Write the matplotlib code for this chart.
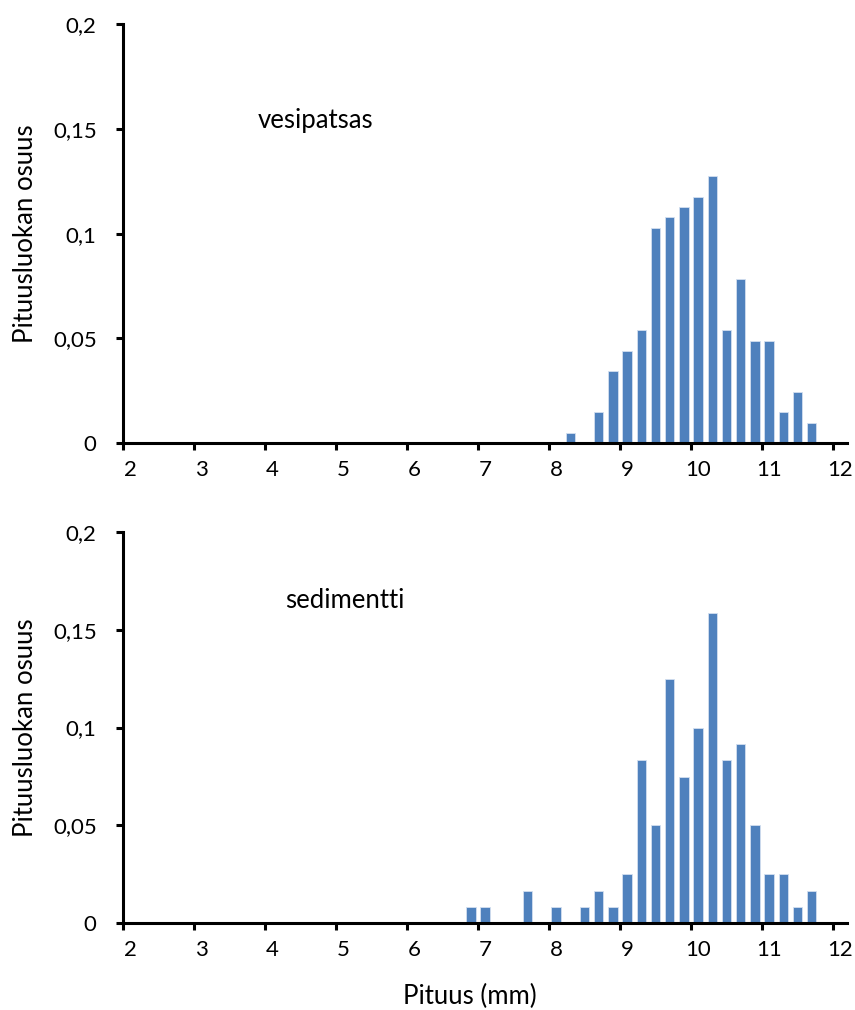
"""
Pituusjakaumat: vesipatsas ja sedimentti
"""

import matplotlib
matplotlib.use("Agg")
import matplotlib.pyplot as plt

DPI = 100
FIGSIZE = (8.55, 10.10)
BAR_COLOR = "#4F81BD"
FONT = "Lato"
TICK_FS = 16
LABEL_FS = 18.5

# length classes (lower edge of 0.2 mm class, mm) and share of each class
vesi_class = [8.2, 8.6, 8.8, 9.0, 9.2, 9.4, 9.6, 9.8, 10.0, 10.2,
              10.4, 10.6, 10.8, 11.0, 11.2, 11.4, 11.6]
vesi_share = [0.0049, 0.0147, 0.0343, 0.0441, 0.0539, 0.1029, 0.1078, 0.1127,
              0.1176, 0.1275, 0.0539, 0.0784, 0.0490, 0.0490, 0.0147, 0.0245,
              0.0098]

sed_class = [6.8, 7.0, 7.6, 8.0, 8.4, 8.6, 8.8, 9.0, 9.2, 9.4, 9.6, 9.8,
             10.0, 10.2, 10.4, 10.6, 10.8, 11.0, 11.2, 11.4, 11.6]
sed_share = [0.0083, 0.0083, 0.0167, 0.0083, 0.0083, 0.0167, 0.0083, 0.025,
             0.0833, 0.05, 0.125, 0.075, 0.10, 0.1583, 0.0833, 0.0917, 0.05,
             0.025, 0.025, 0.0083, 0.0167]

x_ticks = list(range(2, 13))
y_ticks = [0, 0.05, 0.1, 0.15, 0.2]
y_labels = ["0", "0,05", "0,1", "0,15", "0,2"]

plt.rcParams["font.family"] = [FONT, "DejaVu Sans"]


def draw_panel(ax, classes, shares, label, label_xy):
    centers = [c + 0.1 for c in classes]
    ax.bar(centers, shares, width=0.133, color=BAR_COLOR,
           edgecolor="#d3dff0", linewidth=0.6, zorder=2)
    ax.set_xlim(2, 12.2)
    ax.set_ylim(0, 0.2)
    for side in ("top", "right"):
        ax.spines[side].set_visible(False)
    for side in ("left", "bottom"):
        ax.spines[side].set_linewidth(2.2)
        ax.spines[side].set_zorder(3)
    # tick marks between classes, labels centred on the class (Excel style)
    ax.set_xticks(x_ticks)
    ax.set_xticklabels([])
    ax.set_xticks([t + 0.1 for t in x_ticks], minor=True)
    ax.set_xticklabels([str(t) for t in x_ticks], minor=True)
    ax.tick_params(axis="x", which="major", length=5, width=2.2, direction="out")
    ax.tick_params(axis="x", which="minor", length=0, pad=12, labelsize=TICK_FS)
    ax.set_yticks(y_ticks)
    ax.set_yticklabels(y_labels)
    ax.tick_params(axis="y", length=5, width=2.2, direction="out",
                   pad=14, labelsize=TICK_FS)
    ax.set_ylabel("Pituusluokan osuus", fontsize=LABEL_FS)
    ax.yaxis.set_label_coords(-0.117, 0.5)
    ax.text(label_xy[0], label_xy[1], label, fontsize=LABEL_FS, va="center")


fig = plt.figure(figsize=FIGSIZE, dpi=DPI)
ax1 = fig.add_axes([0.1439, 0.5611, 0.8470, 0.4151])
ax2 = fig.add_axes([0.1439, 0.0858, 0.8470, 0.3877])

draw_panel(ax1, vesi_class, vesi_share, "vesipatsas", (3.9, 0.154))
draw_panel(ax2, sed_class, sed_share, "sedimentti", (4.28, 0.165))
ax2.set_xlabel("Pituus (mm)", fontsize=LABEL_FS)
ax2.xaxis.set_label_coords(0.479, -0.155)

fig.savefig("out.png", dpi=DPI)
plt.close(fig)
print("Saved: out.png")
